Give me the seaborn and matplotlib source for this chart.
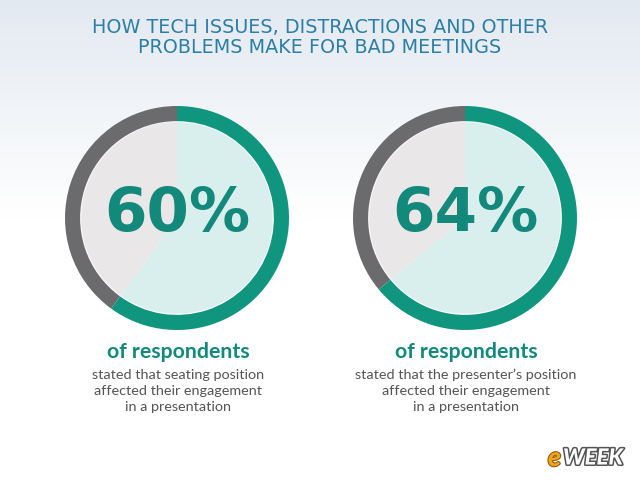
import numpy as np
import matplotlib
matplotlib.use("Agg")
import matplotlib.pyplot as plt
import matplotlib.patheffects as pe
import seaborn as sns

# chart values
percentages = [60, 64]
headline = "of respondents"
captions = [
    "stated that seating position\naffected their engagement\nin a presentation",
    "stated that the presenter\u2019s position\naffected their engagement\nin a presentation",
]
title = "HOW TECH ISSUES, DISTRACTIONS AND OTHER\nPROBLEMS MAKE FOR BAD MEETINGS"

# colours
teal_ring = "#10957f"
gray_ring = "#6b6b6d"
teal_fill = "#d9efee"
gray_fill = "#e9e7e8"
teal_text = "#12897a"
title_col = "#2b7ea6"
body_col = "#555555"

sns.set_theme(style="white")
plt.rcParams["font.family"] = ["Lato", "DejaVu Sans"]

W, H = 640, 480
fig = plt.figure(figsize=(W / 100, H / 100), dpi=100)

# background gradient
bg = fig.add_axes([0, 0, 1, 1])
grad = np.linspace(0, 1, 256)
grad = np.clip(grad * 2.2, 0, 1)[:, None]
top = np.array([0.89, 0.915, 0.945])
bot = np.array([1.0, 1.0, 1.0])
img = top + (bot - top) * grad[..., None]
img = np.repeat(img, 2, axis=1)
bg.imshow(img, aspect="auto", extent=[0, W, H, 0])
bg.set_xlim(0, W)
bg.set_ylim(H, 0)
bg.axis("off")

bg.text(W / 2, 37.5, title, ha="center", va="center", fontsize=13.8,
        color=title_col, family="DejaVu Sans", linespacing=1.1)

centers = [(177, 218), (465, 218)]
R = 112
for (cx, cy), pct, cap in zip(centers, percentages, captions):
    ax = fig.add_axes([(cx - R) / W, (H - cy - R) / H, 2 * R / W, 2 * R / H])
    vals = [pct, 100 - pct]
    ax.pie(vals, colors=[teal_ring, gray_ring], radius=1.0, startangle=90,
           counterclock=False, wedgeprops=dict(width=0.135, linewidth=0))
    ax.pie(vals, colors=[teal_fill, gray_fill], radius=0.855, startangle=90,
           counterclock=False, wedgeprops=dict(linewidth=0))
    ax.set_xlim(-1, 1)
    ax.set_ylim(-1, 1)
    ax.set_aspect("equal")
    ax.axis("off")
    ax.text(0, 0.03, f"{pct}%", ha="center", va="center", fontsize=44,
            fontweight="bold", color=teal_text, family="DejaVu Sans")

    bg.text(cx + 1, 352, headline, ha="center", va="center", fontsize=15.3,
            fontweight="bold", color=teal_text)
    bg.text(cx + 1, 391, cap, ha="center", va="center", fontsize=10.4,
            color=body_col, linespacing=1.4)

# logo
bg.text(548, 458, "e", ha="left", va="center", fontsize=19, fontweight="black",
        style="italic", color="#f2a31b",
        path_effects=[pe.withStroke(linewidth=1.5, foreground="#8a5a10")])
bg.text(563, 458, "WEEK", ha="left", va="center", fontsize=16, fontweight="black",
        style="italic", color="white",
        path_effects=[pe.withStroke(linewidth=2.2, foreground="#555555")])

fig.savefig("out.png", dpi=100)
